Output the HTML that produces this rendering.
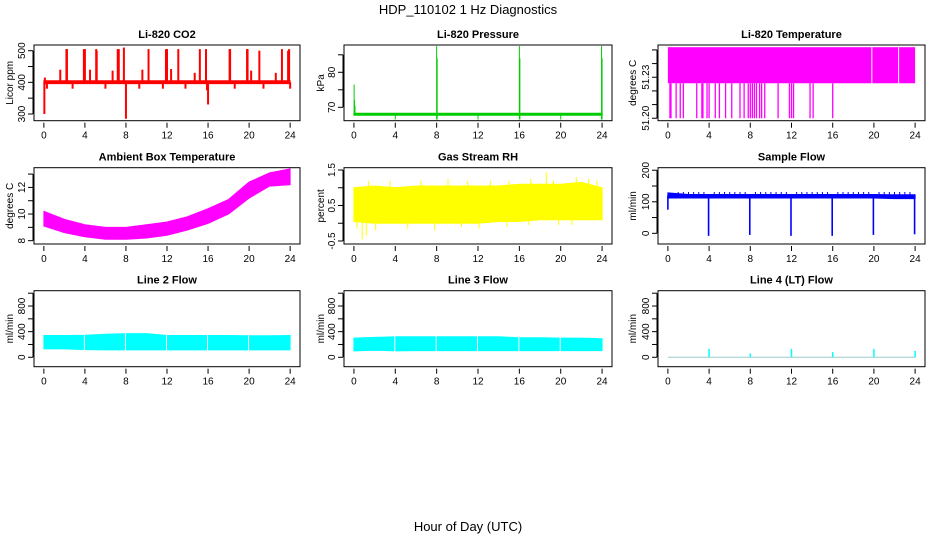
<!DOCTYPE html>
<html><head><meta charset="utf-8"><style>
html,body{margin:0;padding:0;background:#fff;}
svg{display:block;font-family:"Liberation Sans",Arial,sans-serif;}
</style></head><body>
<svg id="chart" width="936" height="540" viewBox="0 0 936 540" xmlns="http://www.w3.org/2000/svg">
<rect width="936" height="540" fill="#fff"/>
<text x="468" y="14" text-anchor="middle" font-size="13">HDP_110102  1 Hz Diagnostics</text>
<text x="468" y="531" text-anchor="middle" font-size="13">Hour of Day (UTC)</text>
</svg>
<script>
// ---------- data ----------
const xTicks = [0,4,8,12,16,20,24];
const bandHours = [0,2,4,6,8,10,12,14,16,18,20,22,24];

// CO2
const co2Upper = [405,405,405,405,405,405,405,405,405,405,405,405,405];
const co2Lower = [396,396,396,396,396,396,396,396,396,396,396,396,396];
const co2SpikeHours = [0.05,0.1,2.2,2.25,3.9,4.0,5.1,5.15,7.2,7.3,7.8,10.2,11.9,12.0,13.1,15.2,15.8,18.1,18.15,19.8,19.85,21.0,23.2,23.8,23.9,1.6,4.5,6.7,9.6,12.4,14.7,20.2,22.6,8.0,16.0,15.9,0.3,2.8,6.0,9.3,11.6,13.8,18.6,21.4,24.0];
const co2SpikeValues = [300,415,505,505,505,505,505,500,505,505,510,505,505,505,505,505,505,505,505,505,505,500,505,500,505,440,440,437,440,442,430,437,430,285,330,375,380,380,380,380,380,380,380,380,380];

// Pressure
const presUpper = [68.3,68.3,68.3,68.3,68.3,68.3,68.3,68.3,68.3,68.3,68.3,68.3,68.3];
const presLower = [67.7,67.7,67.7,67.7,67.7,67.7,67.7,67.7,67.7,67.7,67.7,67.7,67.7];
const presSpikeHours = [0.02,0.05,0.1,4.0,8.0,8.05,12.0,16.0,16.05,20.0,23.95,24.0];
const presSpikeValues = [76.5,72,70.5,66.5,87.5,84,66.5,87.5,84,66.5,87.5,84];
const presSpikeLows = [67.7,67.7,67.7,68,66.5,66.5,68,66.5,66.5,68,66.5,66.5];

// Li-820 temperature
const tempUpper = 51.252;
const tempLower = 51.2256;
const tempGapHours = [19.8,22.4];
const tempDropHours = [0.2,0.3,0.8,1.2,1.5,2.8,3.3,3.4,3.8,4.0,4.6,5.0,5.6,6.2,7.0,7.4,7.8,8.0,8.2,8.4,8.6,8.9,9.1,9.4,10.7,11.8,12.0,12.2,13.8,14.1,16.0];

// Ambient box temperature
const ambUpper = [10.2,9.6,9.2,9.0,9.0,9.2,9.4,9.8,10.4,11.1,12.4,13.1,13.4];
const ambLower = [9.1,8.6,8.3,8.1,8.1,8.2,8.4,8.8,9.3,10.0,11.2,12.1,12.2];

// Gas stream RH
const rhUpper = [1.0,1.05,1.0,1.05,1.05,1.05,1.05,1.05,1.1,1.1,1.1,1.15,1.0];
const rhLower = [0.05,0.0,0.0,0.0,0.0,0.0,0.0,0.05,0.05,0.1,0.1,0.1,0.1];
const rhSpikeHours = [0.3,0.8,1.2,1.4,3.5,6.5,9.1,11.0,13.2,15.0,17.1,18.6,19.3,21.5,22.7,23.5,2.1,5.2,7.8,10.4,12.1,14.8,16.9,19.8,21.1];
const rhSpikeValues = [-0.15,-0.45,-0.35,1.2,1.2,1.2,1.25,1.2,1.2,1.2,1.25,1.45,1.2,1.3,1.25,1.2,-0.2,-0.15,-0.2,-0.1,-0.15,-0.1,-0.05,-0.05,-0.05];

// Sample flow
const sfUpper = [128,123,123,123,123,123,123,123,123,123,123,122,122];
const sfLower = [112,112,112,112,112,112,112,112,112,112,112,110,110];
const sfDropHours = [0.0,3.95,7.95,11.95,15.95,19.95,23.95];
const sfDropValues = [75,-8,-5,-8,-8,-5,-3];
const sfSpikeHours = [1,1.5,2,2.5,3,3.5,4.5,5,5.5,6,6.5,7,7.5,8.5,9,9.5,10,10.5,11,11.5,12.5,13,13.5,14,14.5,15,15.5,16.5,17,17.5,18,18.5,19,19.5,20.5,21,21.5,22,22.5,23,23.5];

// Line 2 flow
const l2Upper = [340,340,345,360,370,370,340,340,340,340,335,335,340];
const l2Lower = [130,130,120,115,115,115,115,115,115,115,115,115,115];
const l2GapHours = [3.95,7.95,11.95,15.95,19.95];

// Line 3 flow
const l3Upper = [300,310,320,320,320,320,320,320,305,305,300,300,290];
const l3Lower = [100,110,100,105,105,105,105,105,105,105,105,105,105];
const l3GapHours = [3.95,7.95,11.95,15.95,19.95];

// Line 4 flow
const l4SpikeHours = [4,8,12,16,20,24];
const l4SpikeValues = [130,60,130,80,130,100];

// ---------- drawing ----------
const NS = 'http://www.w3.org/2000/svg';
const svg = document.getElementById('chart');
function el(tag, attrs, parent){
  const e = document.createElementNS(NS, tag);
  for (const k in attrs) e.setAttribute(k, attrs[k]);
  (parent||svg).appendChild(e);
  return e;
}
function makePanel(name, box, ylim, yticks, ylabels, title, ytitle, ytitleX){
  const g = el('g', {});
  
  
  const xr = 24*0.04;
  const xs = h => box.l + (h + xr) / (24 + 2*xr) * (box.r - box.l);
  const ys = v => box.b - (v - ylim[0]) / (ylim[1] - ylim[0]) * (box.b - box.t);
  const t = el('text', {x:(box.l+box.r)/2, y:box.t-7, 'text-anchor':'middle', 'font-size':'11', 'font-weight':'bold'}, g);
  t.textContent = title;
  
  
  const yt = el('text', {x:ytitleX, y:(box.t+box.b)/2, 'text-anchor':'middle', 'font-size':'10', transform:'rotate(-90 '+ytitleX+' '+((box.t+box.b)/2)+')'}, g);
  yt.textContent = ytitle;
  
  
  const marks = el('g', {}, g);
  
  
  const frame = el('rect', {x:box.l, y:box.t, width:box.r-box.l, height:box.b-box.t, fill:'none', stroke:'#000', 'stroke-width':'1'}, g);
  
  
  // x axis
  xTicks.forEach(h => {
    el('line', {x1:xs(h), x2:xs(h), y1:box.b+2, y2:box.b+7, stroke:'#000'}, g);
    const tl = el('text', {x:xs(h), y:box.b+18, 'text-anchor':'middle', 'font-size':'10'}, g);
    tl.textContent = h;
    
    
  });
  // y axis
  const ax = box.l - 1;
  el('line', {x1:ax, x2:ax, y1:ys(yticks[0]), y2:ys(yticks[yticks.length-1]), stroke:'#000'}, g);
  yticks.forEach((v,i) => {
    el('line', {x1:ax-5, x2:ax, y1:ys(v), y2:ys(v), stroke:'#000'}, g);
    if (ylabels[i] !== '') {
      const lx = ax - 8, ly = ys(v);
      const tl = el('text', {x:lx, y:ly, 'text-anchor':'middle', 'font-size':'10', transform:'rotate(-90 '+lx+' '+ly+')'}, g);
      tl.textContent = ylabels[i];
      
      
    }
  });
  return {xs, ys, g:marks, box};
}
function band(p, upper, lower, color, name){
  let d = '';
  bandHours.forEach((h,i) => { d += (i?'L':'M') + p.xs(h).toFixed(1) + ',' + p.ys(upper[i]).toFixed(1); });
  for (let i = bandHours.length-1; i >= 0; i--) d += 'L' + p.xs(bandHours[i]).toFixed(1) + ',' + p.ys(lower[i]).toFixed(1);
  const e = el('path', {d: d+'Z', fill:color, stroke:color, 'stroke-width':'1'}, p.g);
  
  
}
function vlines(p, hours, tops, bottoms, color, w, name){
  hours.forEach((h,i) => {
    const e = el('line', {x1:p.xs(h), x2:p.xs(h), y1:p.ys(tops[i]), y2:p.ys(Array.isArray(bottoms)?bottoms[i]:bottoms), stroke:color, 'stroke-width':w}, p.g);
    
    
  });
}

const C1 = {l:34, r:300}, C2 = {l:344, r:612}, C3 = {l:658, r:925};
const R1 = {t:45, b:120.7}, R2 = {t:167.7, b:244}, R3 = {t:290.7, b:366.7};
const bx = (c,r) => ({l:c.l, r:c.r, t:r.t, b:r.b});

// CO2
let p = makePanel('co2', bx(C1,R1), [278.8,518], [300,350,400,450,500], ['300','','400','','500'], 'Li-820 CO2', 'Licor ppm', 13);
band(p, co2Upper, co2Lower, '#f00', 'co2-band');
vlines(p, co2SpikeHours, co2SpikeValues, 400, '#f00', 2, 'co2-spike');

// Pressure
p = makePanel('pressure', bx(C2,R1), [66.17,87.8], [70,75,80,85], ['70','','80',''], 'Li-820 Pressure', 'kPa', 324);
band(p, presUpper, presLower, '#0c0', 'pressure-band');
vlines(p, presSpikeHours, presSpikeValues, presSpikeLows, '#0c0', 1, 'pressure-spike');

// Li-820 temperature
p = makePanel('li820-temp', bx(C3,R1), [51.1982,51.2536], [51.20,51.21,51.22,51.23,51.24,51.25], ['51.20','','','51.23','',''], 'Li-820 Temperature', 'degrees C', 636);
{
  const e = el('rect', {x:p.xs(0), y:p.ys(tempUpper), width:p.xs(24)-p.xs(0), height:p.ys(tempLower)-p.ys(tempUpper), fill:'#f0f'}, p.g);
  
  
  tempGapHours.forEach(h => {
    const gp = el('line', {x1:p.xs(h), x2:p.xs(h), y1:p.ys(tempUpper), y2:p.ys(tempLower), stroke:'#fff', 'stroke-width':1}, p.g);
    
    
  });
  vlines(p, tempDropHours, tempDropHours.map(() => 51.2), tempLower, '#f0f', 1.3, 'li820-temp-drop');
}

// Ambient
p = makePanel('ambient-temp', bx(C1,R2), [7.75,13.48], [8,9,10,11,12,13], ['8','','10','','12',''], 'Ambient Box Temperature', 'degrees C', 13);
band(p, ambUpper, ambLower, '#f0f', 'ambient-temp-band');

// RH
p = makePanel('gas-rh', bx(C2,R2), [-0.585,1.565], [-0.5,0,0.5,1,1.5], ['-0.5','','0.5','','1.5'], 'Gas Stream RH', 'percent', 324);
band(p, rhUpper, rhLower, '#ff0', 'gas-rh-band');
vlines(p, rhSpikeHours, rhSpikeValues, 0.5, '#ff0', 1, 'gas-rh-spike');

// Sample flow
p = makePanel('sample-flow', bx(C3,R2), [-33.8,208], [0,50,100,150,200], ['0','','100','','200'], 'Sample Flow', 'ml/min', 636);
band(p, sfUpper, sfLower, '#00f', 'sample-flow-band');
vlines(p, sfSpikeHours, sfSpikeHours.map(() => 131), 120, '#00f', 1, 'sample-flow-spike');
vlines(p, sfDropHours, sfDropValues, 120, '#00f', 1.6, 'sample-flow-drop');

// Line 2
p = makePanel('line2-flow', bx(C1,R3), [-147,1039], [0,200,400,600,800,1000], ['0','','400','','800',''], 'Line 2 Flow', 'ml/min', 13);
band(p, l2Upper, l2Lower, '#0ff', 'line2-flow-band');
vlines(p, l2GapHours, l2GapHours.map(() => 380), 100, '#fff', 1, 'line2-flow-gap');

// Line 3
p = makePanel('line3-flow', bx(C2,R3), [-147,1039], [0,200,400,600,800,1000], ['0','','400','','800',''], 'Line 3 Flow', 'ml/min', 324);
band(p, l3Upper, l3Lower, '#0ff', 'line3-flow-band');
vlines(p, l3GapHours, l3GapHours.map(() => 330), 90, '#fff', 1, 'line3-flow-gap');

// Line 4
p = makePanel('line4-flow', bx(C3,R3), [-147,1039], [0,200,400,600,800,1000], ['0','','400','','800',''], 'Line 4 (LT) Flow', 'ml/min', 636);
{
  const e = el('line', {x1:p.xs(0), x2:p.xs(24), y1:p.ys(0), y2:p.ys(0), stroke:'#9cc', 'stroke-width':1}, p.g);
  
  
  vlines(p, l4SpikeHours, l4SpikeValues, 0, '#0ff', 1.5, 'line4-flow-spike');
}
</script>
</body></html>
